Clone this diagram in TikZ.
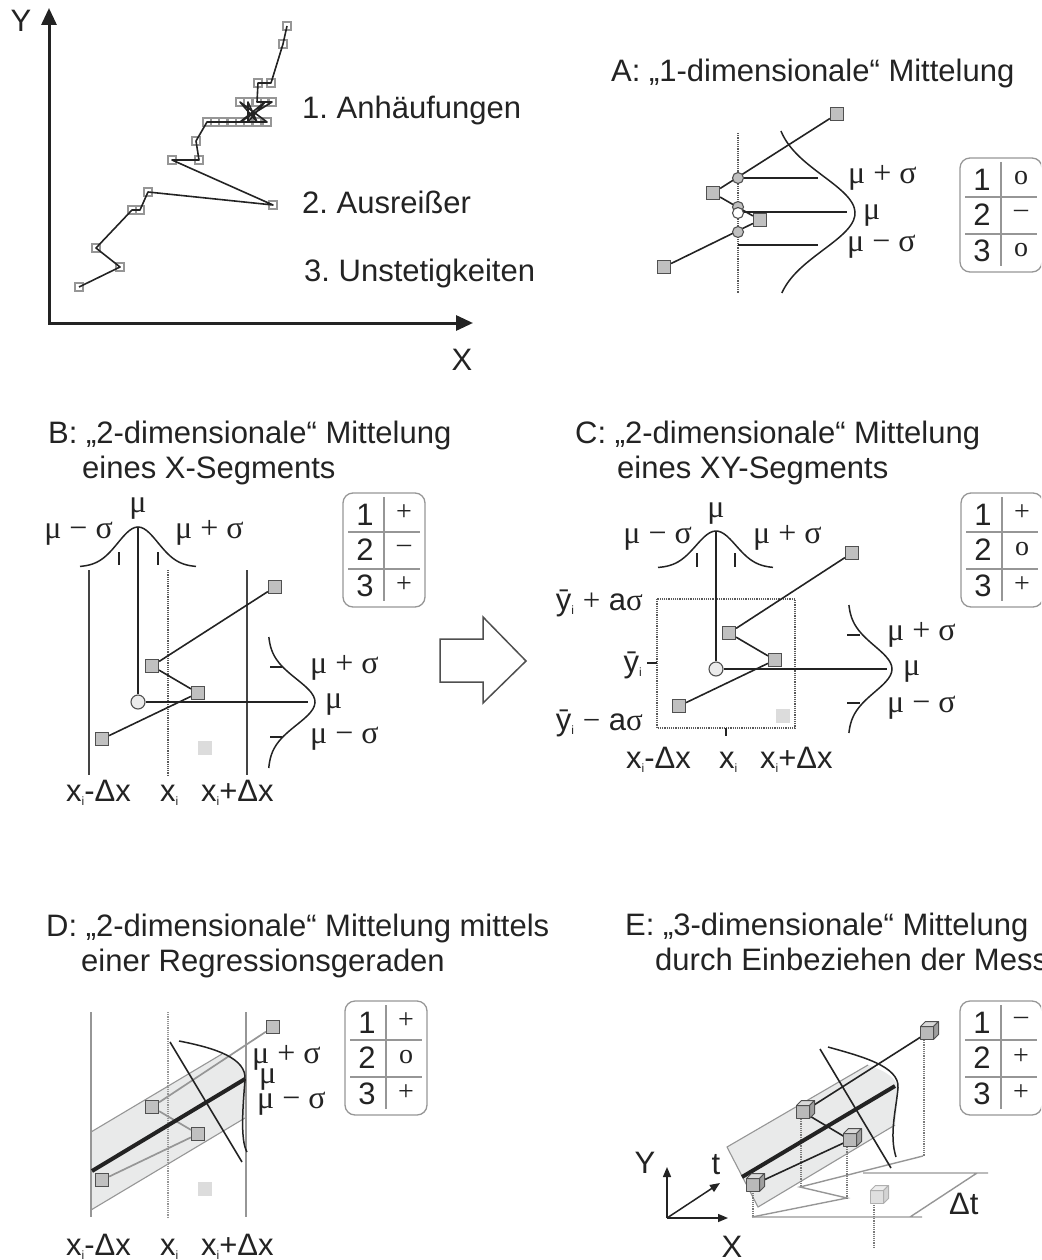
\documentclass[tikz,border=0pt]{standalone}
\usepackage{fontspec}
\setmainfont{Liberation Sans}
\newfontfamily\grk{Liberation Serif}
\usetikzlibrary{arrows.meta}
\frenchspacing
\definecolor{ink}{RGB}{35,35,35}
\definecolor{ptgray}{RGB}{192,192,192}
\definecolor{rim}{RGB}{80,80,80}
\definecolor{ghost}{RGB}{175,175,175}
\definecolor{pale}{RGB}{220,220,220}
\definecolor{bandgray}{RGB}{233,234,234}
\definecolor{tabgray}{RGB}{150,150,150}
\newcommand\tief[1]{\raisebox{-4pt}{\fontsize{12}{12}\selectfont #1}}
\tikzset{
  lbl/.style={font=\fontsize{31}{35}\selectfont,text=ink,inner sep=0pt},
  greek/.style={font=\grk\fontsize{32}{35}\selectfont,text=ink,inner sep=0pt},
  sym/.style={font=\grk\fontsize{28}{30}\selectfont,text=ink,inner sep=0pt},
  seg/.style={draw=ink,line width=1.6pt},
  seg gray/.style={draw=tabgray,line width=1.7pt},
  trace/.style={draw=ink,line width=1.6pt,line join=round},
  regline/.style={draw=ink,line width=4pt},
  raster/.style={draw=ink!85,line width=1.4pt},
  raster gray/.style={draw=tabgray,line width=1.3pt},
  dotline/.style={draw=ink!75,line width=1.2pt,densely dotted},
  bell/.style={draw=ink,line width=1.5pt},
  axis/.style={{Triangle[length=17pt,width=15pt]}-{Triangle[length=17pt,width=15pt]},draw=ink,line width=3pt},
  axis3d/.style={-{Triangle[length=10pt,width=8pt]},draw=ink,line width=1.5pt},
  pt/.style={rectangle,draw=rim,fill=ptgray,line width=1.2pt,minimum size=13pt,inner sep=0pt},
  pt light/.style={rectangle,draw=pale,fill=pale,minimum size=13pt,inner sep=0pt},
  mw/.style={rectangle,draw=tabgray,line width=1.3pt,minimum size=8pt,inner sep=0pt},
  dot/.style={circle,draw=rim,fill=#1,line width=1.1pt,minimum size=11pt,inner sep=0pt},
  dot/.default=ptgray,
  band/.style={fill=bandgray},
  band edge/.style={draw=tabgray,line width=1.1pt},
  plane/.style={draw=tabgray,line width=1.4pt},
  % Bewertungstabelle 1/2/3
  pics/wertung/.style n args={3}{code={
    \draw[tabgray,line width=1.3pt,rounded corners=10pt] (0,0) rectangle (82,114);
    \draw[tabgray,line width=1.3pt] (41,4) -- (41,108) (5,39) -- (77,39) (5,76) -- (77,76);
    \node[lbl] (-n1) at (22,22) {1};
    \node[lbl] (-n2) at (22,57) {2};
    \node[lbl] (-n3) at (22,93) {3};
    \node[sym] (-s1) at (61,20) {#1};
    \node[sym] (-s2) at (61,56) {#2};
    \node[sym] (-s3) at (61,92) {#3};
  }},
  % kleiner Wuerfel
  pics/cube/.style={code={
    \filldraw[draw=#1,fill=#1!40!white,line width=1pt,line join=round] (-6.5,-6.5) rectangle (6.5,6.5);
    \filldraw[draw=#1,fill=#1!22!white,line width=1pt,line join=round] (-6.5,-6.5) -- (-1.5,-11.5) -- (11.5,-11.5) -- (6.5,-6.5) -- cycle;
    \filldraw[draw=#1,fill=#1!55!white,line width=1pt,line join=round] (6.5,-6.5) -- (11.5,-11.5) -- (11.5,1.5) -- (6.5,6.5) -- cycle;
  }},
  pics/cube/.default=rim,
}
\begin{document}
\begin{tikzpicture}[x=1pt,y=-1pt]
\useasboundingbox (0,0) rectangle (1041,1260);
\clip (0,0) rectangle (1041,1260);

% --- Messkurve mit Fehlerarten
\draw[axis] (49,8) -- (49,323) -- (473,323);
\node[lbl] (yax) at (21,21) {Y};
\node[lbl] (xax) at (462,360) {X};
\foreach \px/\py [count=\k] in {79/287,120/267,96/248,132/210,140/210,148/192,273/205,
    172/160,199/160,196/141,207/122,215/122,223/122,232/122,240/122,248/122,257/122,
    267/122,240/102,248/102,257/102,265/102,272/102,258/83,271/83,283/44,287/26}
  \node[mw] (p\k) at (\px,\py) {};
\draw[trace] (p1.center) \foreach \k in {2,3,4,5,6,7,8,9,10,11,12,13,14,15,16,17,18,
    19,17,20,16,22,15,23,21,24,25,26,27} {-- (p\k.center)};
\node[lbl,anchor=base west] (f1) at (302,119) {1. Anhäufungen};
\node[lbl,anchor=base west] (f2) at (302,213) {2. Ausreißer};
\node[lbl,anchor=base west] (f3) at (304,281) {3. Unstetigkeiten};

% --- A
\node[lbl,anchor=base west] (ta) at (611,82) {A: „1-dimensionale“ Mittelung};
\draw[dotline] (738,133) -- (738,293);
\node[pt] (a1) at (664,267) {};
\node[pt] (a2) at (760,220) {};
\node[pt] (a3) at (713,193) {};
\node[pt] (a4) at (837,114) {};
\draw[seg] (a1) -- (a2) -- (a3) -- (a4);
\draw[seg] (738,178) -- (818,178) (738,212) -- (847,212) (738,245) -- (818,245);
\node[dot] (ac1) at (738,178) {};
\node[dot] (ac2) at (738,207) {};
\node[dot] (ac4) at (738,232) {};
\node[dot=white] (ac3) at (738,213) {};
\draw[bell] plot[domain=-82:80,samples=41,smooth] ({774+81*exp(-((\x)*(\x))/2738)},{213+\x});
\node[greek,anchor=base west] (ga1) at (848,183) {μ + σ};
\node[greek,anchor=base west] (ga2) at (863,219) {μ};
\node[greek,anchor=base west] (ga3) at (847,251) {μ − σ};
\pic (wa) at (960,158) {wertung={o}{–}{o}};

% --- B
\node[lbl,anchor=base west] (tb1) at (48,443) {B: „2-dimensionale“ Mittelung};
\node[lbl,anchor=base west] (tb2) at (82,478) {eines X-Segments};
\draw[bell] plot[domain=-58:58,samples=41,smooth] ({138+\x},{567-40*exp(-((\x)*(\x))/800)});
\draw[seg] (119,552) -- (119,565) (158,552) -- (158,565);
\node[greek,anchor=base] (gb0) at (138,512) {μ};
\node[greek,anchor=base east] (gb1) at (113,538) {μ − σ};
\node[greek,anchor=base west] (gb2) at (175,538) {μ + σ};
\draw[raster] (89,570) -- (89,775) (247,570) -- (247,775);
\draw[dotline] (168,570) -- (168,775);
\coordinate (bmu) at (138,527);
\coordinate (bpk) at (308,702);
\node[dot=black!8,minimum size=14pt] (bc) at (138,702) {};
\draw[seg] (bmu) -- (bc);
\draw[seg] (bc) -- (bpk);
\node[pt] (b1) at (102,739) {};
\node[pt] (b2) at (198,693) {};
\node[pt] (b3) at (152,666) {};
\node[pt] (b4) at (275,587) {};
\node[pt light] (b5) at (205,748) {};
\draw[seg] (b1) -- (b2) -- (b3) -- (b4);
\draw[bell] plot[domain=-65:66,samples=41,smooth] ({268+47*exp(-((\x)*(\x))/1058)},{702+\x});
\draw[seg] (270,667) -- (282,667) (270,737) -- (282,737);
\node[greek,anchor=base west] (gb3) at (310,673) {μ + σ};
\node[greek,anchor=base west] (gb4) at (325,708) {μ};
\node[greek,anchor=base west] (gb5) at (310,743) {μ − σ};
\pic (wb) at (343,493) {wertung={+}{–}{+}};
\node[lbl,anchor=base west] (xb1) at (66,801) {x\tief{i}-Δx};
\node[lbl,anchor=base west] (xb2) at (160,801) {x\tief{i}};
\node[lbl,anchor=base west] (xb3) at (201,801) {x\tief{i}+Δx};

% Blockpfeil B -> C
\draw[draw=ink!80,fill=white,line width=1.5pt] (440,639) -- (483,639) -- (483,617) -- (526,661)
  -- (483,703) -- (483,682) -- (440,682) -- cycle;

% --- C
\node[lbl,anchor=base west] (tc1) at (575,443) {C: „2-dimensionale“ Mittelung};
\node[lbl,anchor=base west] (tc2) at (617,478) {eines XY-Segments};
\draw[bell] plot[domain=-58:57,samples=41,smooth] ({716+\x},{568-37*exp(-((\x)*(\x))/800)});
\draw[seg] (697,553) -- (697,567) (735,553) -- (735,567);
\node[greek,anchor=base] (gc0) at (716,517) {μ};
\node[greek,anchor=base east] (gc1) at (692,543) {μ − σ};
\node[greek,anchor=base west] (gc2) at (753,543) {μ + σ};
\draw[dotline] (657,599) rectangle (795,728);
\draw[seg] (726,728) -- (726,736) (647,663) -- (657,663);
\coordinate (cmu) at (716,531);
\coordinate (cpk) at (887,669);
\node[dot=black!8,minimum size=14pt] (cc) at (716,669) {};
\draw[seg] (cmu) -- (cc);
\draw[seg] (cc) -- (cpk);
\node[pt] (k1) at (679,706) {};
\node[pt] (k2) at (775,660) {};
\node[pt] (k3) at (729,633) {};
\node[pt] (k4) at (852,553) {};
\node[pt light] (k5) at (783,716) {};
\draw[seg] (k1) -- (k2) -- (k3) -- (k4);
\draw[bell] plot[domain=-64:64,samples=41,smooth] ({848+44*exp(-((\x)*(\x))/1058)},{669+\x});
\draw[seg] (847,635) -- (860,635) (847,703) -- (860,703);
\node[greek,anchor=base west] (gc3) at (887,640) {μ + σ};
\node[greek,anchor=base west] (gc4) at (903,675) {μ};
\node[greek,anchor=base west] (gc5) at (887,712) {μ − σ};
\node[lbl,anchor=base east] (cy1) at (643,610) {\={y}\tief{i} {\grk +} a{\grk σ}};
\node[lbl,anchor=base east] (cy0) at (642,672) {\={y}\tief{i}};
\node[lbl,anchor=base east] (cy2) at (643,730) {\={y}\tief{i} {\grk −} a{\grk σ}};
\pic (wc) at (961,493) {wertung={+}{o}{+}};
\node[lbl,anchor=base west] (xc1) at (626,768) {x\tief{i}-Δx};
\node[lbl,anchor=base west] (xc2) at (719,768) {x\tief{i}};
\node[lbl,anchor=base west] (xc3) at (760,768) {x\tief{i}+Δx};

% --- D
\node[lbl,anchor=base west] (td1) at (46,936) {D: „2-dimensionale“ Mittelung mittels};
\node[lbl,anchor=base west] (td2) at (81,971) {einer Regressionsgeraden};
\fill[band] (91,1132) -- (222,1054) .. controls (238,1060) and (245,1068) .. (245,1080)
  -- (245,1118) -- (91,1210) -- cycle;
\draw[band edge] (91,1132) -- (222,1054) (91,1210) -- (245,1118);
\draw[raster gray] (91,1012) -- (91,1217) (246,1012) -- (246,1217);
\draw[dotline,draw=tabgray] (168,1012) -- (168,1217);
\node[pt] (d1) at (102,1180) {};
\node[pt] (d2) at (152,1107) {};
\node[pt] (d3) at (198,1134) {};
\node[pt] (d4) at (273,1027) {};
\node[pt light] (d5) at (205,1189) {};
\draw[seg gray] (d1) -- (d3) -- (d2) -- (d4);
\coordinate (r0) at (92,1171);
\coordinate (r1) at (245,1079);
\draw[regline] (r0) -- (r1);
\draw[seg] (170,1042) -- (242,1162);
\draw[bell] (179,1041) .. controls (215,1048) and (247,1058) .. (245,1080)
  .. controls (243,1105) and (240,1140) .. (247,1152);
\node[greek,anchor=base west] (gd1) at (252,1063) {μ + σ};
\node[greek,anchor=base west] (gd2) at (259,1083) {μ};
\node[greek,anchor=base west] (gd3) at (257,1108) {μ − σ};
\pic (wd) at (345,1001) {wertung={+}{o}{+}};
\node[lbl,anchor=base west] (xd1) at (66,1255) {x\tief{i}-Δx};
\node[lbl,anchor=base west] (xd2) at (160,1255) {x\tief{i}};
\node[lbl,anchor=base west] (xd3) at (201,1255) {x\tief{i}+Δx};

% --- E
\node[lbl,anchor=base west] (te1) at (625,935) {E: „3-dimensionale“ Mittelung};
\node[lbl,anchor=base west] (te2) at (655,970) {durch Einbeziehen der Mess};
\draw[plane] (752,1217) -- (922,1217) (910,1217) -- (977,1173) (863,1173) -- (988,1173);
\draw[plane] (752,1217) -- (847,1198) -- (800,1187) -- (923,1156);
\fill[band] (727,1147) -- (868,1065) .. controls (885,1071) and (898,1078) .. (898,1090)
  -- (897,1107) -- (895,1125) -- (758,1207) -- cycle;
\draw[band edge] (868,1065) -- (727,1147) -- (758,1207) -- (895,1125);
\coordinate (e1) at (753,1185);
\coordinate (e2) at (803,1112);
\coordinate (e3) at (850,1140);
\coordinate (e4) at (927,1033);
\coordinate (e5) at (877,1197);
\draw[dotline,draw=ink!60] (753,1193) -- (753,1217) (801,1119) -- (801,1187)
  (847,1147) -- (847,1198) (924,1040) -- (924,1156) (874,1205) -- (874,1247);
\draw[regline] (742,1177) -- (895,1086);
\draw[seg] (e1) -- (e3) -- (e2) -- (e4);
\draw[seg] (820,1049) -- (891,1168);
\draw[bell] (828,1047) .. controls (860,1056) and (900,1066) .. (898,1088)
  .. controls (896,1110) and (889,1135) .. (896,1157);
\pic (q1) at (e1) {cube};
\pic (q2) at (e2) {cube};
\pic (q3) at (e3) {cube};
\pic (q4) at (e4) {cube};
\pic (q5) at (e5) {cube=ghost};
\coordinate (o3) at (667,1218);
\coordinate (oy) at (667,1167);
\coordinate (ox) at (728,1218);
\coordinate (ot) at (720,1183);
\draw[axis3d] (o3) -- (oy);
\draw[axis3d] (o3) -- (ox);
\draw[axis3d] (o3) -- (ot);
\node[lbl] (ly) at (645,1163) {Y};
\node[lbl] (lt) at (716,1165) {t};
\node[lbl] (lx) at (732,1247) {X};
\node[lbl,anchor=base west] (dt) at (949,1214) {Δt};
\pic (we) at (960,1001) {wertung={–}{+}{+}};
\end{tikzpicture}
\end{document}
